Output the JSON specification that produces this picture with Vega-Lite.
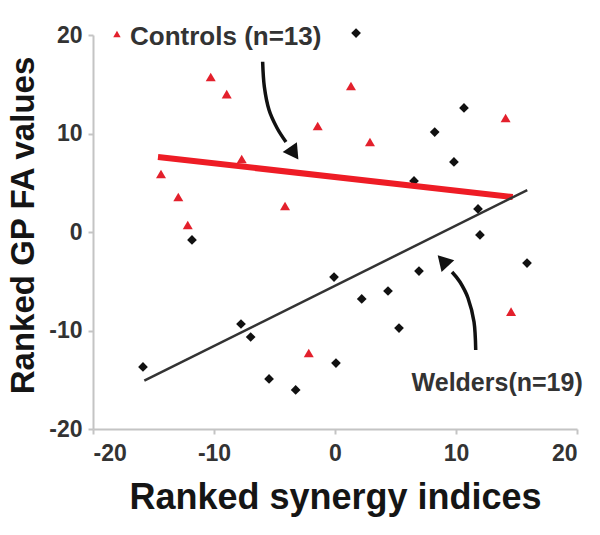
{
  "$schema": "https://vega.github.io/schema/vega-lite/v6.json",
  "autosize": {"type": "none"},
  "padding": {"left": 93, "top": 35, "right": 23, "bottom": 106},
  "width": 484,
  "height": 394,
  "background": "white",
  "config": {
    "view": {"stroke": null},
    "font": "Liberation Sans",
    "axis": {
      "grid": false,
      "domainColor": "#c4c4c4",
      "domainWidth": 2,
      "tickColor": "#c4c4c4",
      "tickWidth": 2,
      "tickSize": 5,
      "labelFont": "Liberation Sans",
      "labelFontSize": 23,
      "labelFontWeight": "bold",
      "labelColor": "#333333",
      "labelExpr": "datum.value < 0 ? '-' + abs(datum.value) : '' + datum.value",
      "titleFont": "Liberation Sans",
      "titleFontWeight": "bold",
      "titleColor": "#151515"
    }
  },
  "datasets": {
    "welders": [
      {"x": -11.82, "y": -0.81}, {"x": 1.74, "y": 20.2}, {"x": 10.66, "y": 12.59},
      {"x": 8.24, "y": 10.15}, {"x": 9.83, "y": 7.11}, {"x": 6.53, "y": 5.18},
      {"x": 11.82, "y": 2.34}, {"x": 11.98, "y": -0.3}, {"x": -0.08, "y": -4.57},
      {"x": -15.87, "y": -13.7}, {"x": -7.77, "y": -9.34}, {"x": -6.97, "y": -10.66},
      {"x": -5.45, "y": -14.92}, {"x": -3.25, "y": -16.04}, {"x": 0.08, "y": -13.3},
      {"x": 15.87, "y": -3.15}, {"x": 6.94, "y": -3.96}, {"x": 4.38, "y": -5.99},
      {"x": 2.21, "y": -6.8}, {"x": 5.29, "y": -9.75}
    ],
    "controls": [
      {"x": -10.27, "y": 15.74}, {"x": -8.95, "y": 14.0}, {"x": -1.43, "y": 10.76},
      {"x": -7.71, "y": 7.41}, {"x": -14.38, "y": 5.89}, {"x": -12.95, "y": 3.55},
      {"x": -4.13, "y": 2.64}, {"x": -12.17, "y": 0.71}, {"x": 1.32, "y": 14.82},
      {"x": 14.1, "y": 11.57}, {"x": 2.89, "y": 9.14}, {"x": -2.17, "y": -12.28},
      {"x": 14.55, "y": -8.09}
    ],
    "redline": [{"x": -14.63, "y": 7.61}, {"x": 14.69, "y": 3.55}],
    "blackline": [{"x": -15.76, "y": -15.1}, {"x": 15.89, "y": 4.26}],
    "arrows": [
      {"arrow": "controls", "i": 1, "x": -5.98, "y": 17.29},
      {"arrow": "controls", "i": 2, "x": -5.84, "y": 14.75},
      {"arrow": "controls", "i": 3, "x": -5.45, "y": 12.39},
      {"arrow": "controls", "i": 4, "x": -4.79, "y": 10.56},
      {"arrow": "controls", "i": 5, "x": -4.05, "y": 9.14},
      {"arrow": "welders", "i": 1, "x": 11.63, "y": -11.98},
      {"arrow": "welders", "i": 2, "x": 11.49, "y": -9.14},
      {"arrow": "welders", "i": 3, "x": 10.99, "y": -6.7},
      {"arrow": "welders", "i": 4, "x": 10.33, "y": -5.08},
      {"arrow": "welders", "i": 5, "x": 9.67, "y": -4.06}
    ],
    "headControls": [{"x": -3.5, "y": 8.2}],
    "headWelders": [{"x": 9.05, "y": -3.1}],
    "legendMark": [{"x": -18.02, "y": 20.1}],
    "labelControls": [{"x": -16.94, "y": 19.8, "label": "Controls (n=13)"}],
    "labelWelders": [{"x": 13.4, "y": -15.33, "label": "Welders(n=19)"}]
  },
  "encoding": {
    "x": {
      "field": "x", "type": "quantitative",
      "scale": {"domain": [-20, 20], "nice": false, "zero": false},
      "axis": {"values": [-20, -10, 0, 10, 20], "title": "Ranked synergy indices", "titleFontSize": 36, "labelPadding": 8, "titlePadding": 15}
    },
    "y": {
      "field": "y", "type": "quantitative",
      "scale": {"domain": [-20, 20], "nice": false, "zero": false},
      "axis": {"values": [-20, -10, 0, 10, 20], "title": "Ranked GP FA values", "titleFontSize": 33, "titleY": 190, "labelPadding": 6, "titlePadding": 8}
    }
  },
  "layer": [
    {"data": {"name": "controls"}, "mark": {"type": "point", "shape": "triangle-up", "filled": true, "color": "#e3202c", "opacity": 1, "size": 100}},
    {"data": {"name": "welders"}, "mark": {"type": "point", "shape": "diamond", "filled": true, "color": "#111111", "opacity": 1, "size": 95}},
    {"data": {"name": "redline"}, "mark": {"type": "line", "color": "#ee1c25", "strokeWidth": 6}},
    {"data": {"name": "blackline"}, "mark": {"type": "line", "color": "#333333", "strokeWidth": 2.5}},
    {"data": {"name": "arrows"}, "mark": {"type": "line", "color": "#111111", "strokeWidth": 3.5, "interpolate": "cardinal"},
     "encoding": {"detail": {"field": "arrow"}, "order": {"field": "i", "type": "quantitative"}}},
    {"data": {"name": "headControls"}, "mark": {"type": "point", "shape": "triangle", "filled": true, "color": "#111111", "opacity": 1, "size": 300, "angle": 145}},
    {"data": {"name": "headWelders"}, "mark": {"type": "point", "shape": "triangle", "filled": true, "color": "#111111", "opacity": 1, "size": 300, "angle": 317}},
    {"data": {"name": "legendMark"}, "mark": {"type": "point", "shape": "triangle-up", "filled": true, "color": "#e3202c", "opacity": 1, "size": 55}},
    {"data": {"name": "labelControls"}, "mark": {"type": "text", "align": "left", "baseline": "middle", "font": "Liberation Sans", "fontSize": 26, "fontWeight": "bold", "color": "#333333"},
     "encoding": {"text": {"field": "label"}}},
    {"data": {"name": "labelWelders"}, "mark": {"type": "text", "align": "center", "baseline": "middle", "font": "Liberation Sans", "fontSize": 25, "fontWeight": "bold", "color": "#333333"},
     "encoding": {"text": {"field": "label"}}}
  ]
}
